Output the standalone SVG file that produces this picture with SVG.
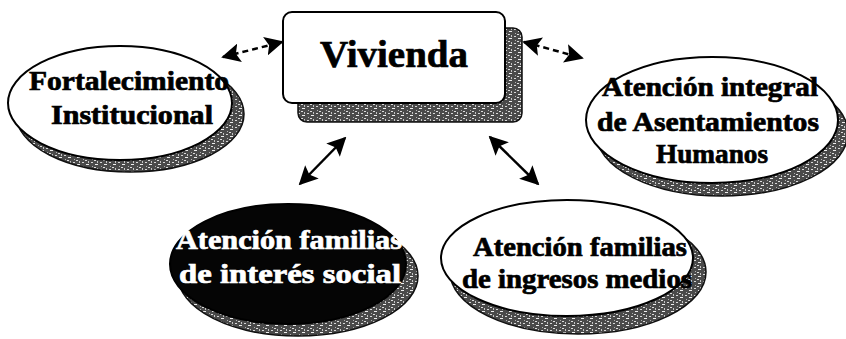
<svg xmlns="http://www.w3.org/2000/svg" width="846" height="339" viewBox="0 0 846 339">
<defs>
<pattern id="tex" width="9" height="7" patternUnits="userSpaceOnUse">
<rect width="9" height="7" fill="#4a4a4a"/>
<rect x="1" y="1" width="2" height="1" fill="#d8d8d8"/>
<rect x="5" y="3" width="3" height="1" fill="#eeeeee"/>
<rect x="2" y="5" width="1" height="1" fill="#b0b0b0"/>
<rect x="7" y="0" width="1" height="2" fill="#c4c4c4"/>
<rect x="4" y="6" width="2" height="1" fill="#dddddd"/>
</pattern>
<marker id="ah" viewBox="0 0 10 10" refX="9" refY="5" markerWidth="19" markerHeight="19" markerUnits="userSpaceOnUse" orient="auto-start-reverse">
<path d="M0,0 L10,5 L0,10 L2,5 Z" fill="#000"/>
</marker>
<style>
.shadow{fill:url(#tex);stroke:#111;stroke-width:1.5}
.node{fill:#fff;stroke:#000;stroke-width:2}
.dark{fill:#050505;stroke:#000;stroke-width:2}
.t{font-family:"Liberation Serif","Times New Roman",serif;font-weight:bold;text-anchor:middle;fill:#000;stroke:#000;stroke-width:0.7}
.tw{fill:#fff;stroke:#fff}
.con{fill:none;stroke:#000;stroke-width:2.5;marker-start:url(#ah);marker-end:url(#ah)}
.dash{stroke-dasharray:6 4}
</style>
</defs>
<g id="connectors">
<line class="con dash" x1="223" y1="57" x2="282" y2="42"/>
<line class="con dash" x1="524" y1="42" x2="582" y2="58"/>
<line class="con" x1="345" y1="138" x2="300" y2="184"/>
<line class="con" x1="490" y1="137" x2="538" y2="184"/>
</g>
<g id="vivienda">
<rect class="shadow" x="298" y="28" width="224" height="94" rx="9"/>
<rect class="node" x="283" y="12" width="222" height="91" rx="9"/>
<text class="t" x="394" y="67" font-size="38" textLength="148" lengthAdjust="spacingAndGlyphs">Vivienda</text>
</g>
<g id="fortalecimiento">
<ellipse class="shadow" cx="130" cy="114" rx="114" ry="58"/>
<ellipse class="node" cx="120" cy="103" rx="112" ry="57"/>
<text class="t" x="129" y="90" font-size="27" textLength="200" lengthAdjust="spacingAndGlyphs">Fortalecimiento</text>
<text class="t" x="132" y="124" font-size="27" textLength="162" lengthAdjust="spacingAndGlyphs">Institucional</text>
</g>
<g id="asentamientos">
<ellipse class="shadow" cx="722" cy="133" rx="126" ry="63"/>
<ellipse class="node" cx="712" cy="120" rx="126" ry="63"/>
<text class="t" x="710" y="96" font-size="27" textLength="216" lengthAdjust="spacingAndGlyphs">Atención integral</text>
<text class="t" x="708" y="131" font-size="27" textLength="222" lengthAdjust="spacingAndGlyphs">de Asentamientos</text>
<text class="t" x="712" y="163" font-size="27" textLength="112" lengthAdjust="spacingAndGlyphs">Humanos</text>
</g>
<g id="interes-social">
<ellipse class="shadow" cx="298" cy="276" rx="120" ry="60"/>
<ellipse class="dark" cx="288" cy="264" rx="118" ry="60"/>
<text class="t tw" x="289" y="249" font-size="27" textLength="226" lengthAdjust="spacingAndGlyphs">Atención familias</text>
<text class="t tw" x="290" y="283" font-size="27" textLength="222" lengthAdjust="spacingAndGlyphs">de interés social</text>
</g>
<g id="ingresos-medios">
<ellipse class="shadow" cx="578" cy="272" rx="128" ry="62"/>
<ellipse class="node" cx="567" cy="258" rx="126" ry="58"/>
<text class="t" x="580" y="256" font-size="27" textLength="214" lengthAdjust="spacingAndGlyphs">Atención familias</text>
<text class="t" x="577" y="288" font-size="27" textLength="230" lengthAdjust="spacingAndGlyphs">de ingresos medios</text>
</g>
</svg>
